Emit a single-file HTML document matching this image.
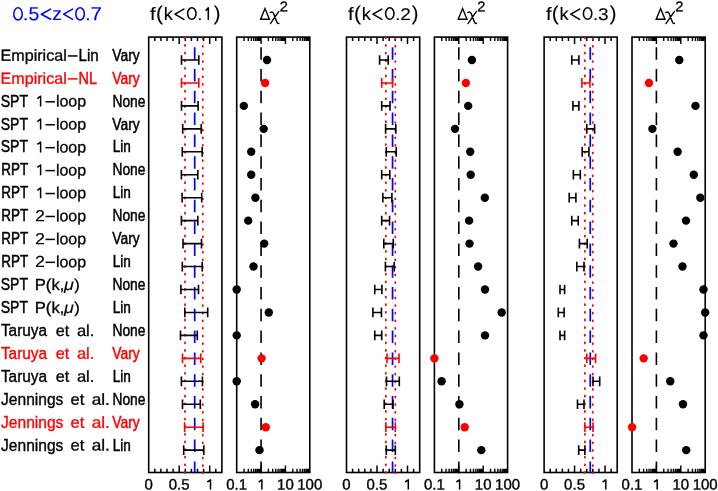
<!DOCTYPE html>
<html><head><meta charset="utf-8"><title>chart</title>
<style>html,body{margin:0;padding:0;background:#fff}svg{display:block;will-change:transform}text{font-family:"Liberation Sans",sans-serif}</style></head><body>
<svg width="718" height="491" viewBox="0 0 718 491">
<rect width="718" height="491" fill="#fff"/>
<g><rect x="148.7" y="37.1" width="73.20" height="435.40" fill="none" stroke="#000" stroke-width="1.6"/>
<path d="M154.80 37.1v3.8M154.80 472.5v-3.8M160.90 37.1v3.8M160.90 472.5v-3.8M167.00 37.1v3.8M167.00 472.5v-3.8M173.10 37.1v3.8M173.10 472.5v-3.8M179.20 37.1v6.9M179.20 472.5v-6.9M185.30 37.1v3.8M185.30 472.5v-3.8M191.40 37.1v3.8M191.40 472.5v-3.8M197.50 37.1v3.8M197.50 472.5v-3.8M203.60 37.1v3.8M203.60 472.5v-3.8M209.70 37.1v6.9M209.70 472.5v-6.9M215.80 37.1v3.8M215.80 472.5v-3.8" stroke="#000" stroke-width="1.5" fill="none"/>
<line x1="185.0" y1="37.35" x2="185.0" y2="473.0" stroke="#ff0000" stroke-width="1.8" stroke-dasharray="0.9 6.725" stroke-linecap="round"/>
<line x1="202.8" y1="38.15" x2="202.8" y2="473.0" stroke="#ff0000" stroke-width="1.8" stroke-dasharray="0.9 6.725" stroke-linecap="round"/>
<line x1="194.7" y1="36.45" x2="194.7" y2="473.2" stroke="#0000ff" stroke-width="1.7" stroke-dasharray="12.5 9.3" stroke-dashoffset="11.05"/>
<path d="M181.5 55.15v9.7M198.8 55.15v9.7M181.5 60.00H198.8" stroke="#000" stroke-width="1.6" fill="none"/>
<path d="M181.5 78.10v9.7M198.8 78.10v9.7M181.5 82.95H198.8" stroke="#ff0000" stroke-width="1.6" fill="none"/>
<path d="M181.5 101.05v9.7M198.1 101.05v9.7M181.5 105.90H198.1" stroke="#000" stroke-width="1.6" fill="none"/>
<path d="M182.7 124.00v9.7M201.2 124.00v9.7M182.7 128.85H201.2" stroke="#000" stroke-width="1.6" fill="none"/>
<path d="M182.3 146.95v9.7M202.2 146.95v9.7M182.3 151.80H202.2" stroke="#000" stroke-width="1.6" fill="none"/>
<path d="M181.4 169.90v9.7M197.8 169.90v9.7M181.4 174.75H197.8" stroke="#000" stroke-width="1.6" fill="none"/>
<path d="M182.1 192.85v9.7M201.7 192.85v9.7M182.1 197.70H201.7" stroke="#000" stroke-width="1.6" fill="none"/>
<path d="M181.4 215.80v9.7M197.8 215.80v9.7M181.4 220.65H197.8" stroke="#000" stroke-width="1.6" fill="none"/>
<path d="M183.0 238.75v9.7M201.5 238.75v9.7M183.0 243.60H201.5" stroke="#000" stroke-width="1.6" fill="none"/>
<path d="M182.3 261.70v9.7M202.2 261.70v9.7M182.3 266.55H202.2" stroke="#000" stroke-width="1.6" fill="none"/>
<path d="M180.9 284.65v9.7M198.5 284.65v9.7M180.9 289.50H198.5" stroke="#000" stroke-width="1.6" fill="none"/>
<path d="M184.8 307.60v9.7M207.7 307.60v9.7M184.8 312.45H207.7" stroke="#000" stroke-width="1.6" fill="none"/>
<path d="M180.5 330.55v9.7M197.3 330.55v9.7M180.5 335.40H197.3" stroke="#000" stroke-width="1.6" fill="none"/>
<path d="M182.5 353.50v9.7M200.8 353.50v9.7M182.5 358.35H200.8" stroke="#ff0000" stroke-width="1.6" fill="none"/>
<path d="M181.4 376.45v9.7M202.4 376.45v9.7M181.4 381.30H202.4" stroke="#000" stroke-width="1.6" fill="none"/>
<path d="M182.5 399.40v9.7M200.3 399.40v9.7M182.5 404.25H200.3" stroke="#000" stroke-width="1.6" fill="none"/>
<path d="M184.6 422.35v9.7M203.1 422.35v9.7M184.6 427.20H203.1" stroke="#ff0000" stroke-width="1.6" fill="none"/>
<path d="M183.7 445.30v9.7M203.8 445.30v9.7M183.7 450.15H203.8" stroke="#000" stroke-width="1.6" fill="none"/>
<text transform="matrix(1,0.0005,0,1,0,-0.0743)" x="148.70" y="489.5" font-size="15" stroke="#000" stroke-width="0.35" text-anchor="middle">0</text>
<text transform="matrix(1,0.0005,0,1,0,-0.0896)" x="179.20" y="489.5" font-size="15" stroke="#000" stroke-width="0.35" text-anchor="middle">0.5</text>
<path d="M207.30 482.0L210.50 479.9V489.5" fill="none" stroke="#000" stroke-width="1.5" stroke-linejoin="round"/></g>
<g><rect x="236.7" y="37.1" width="73.10" height="435.40" fill="none" stroke="#000" stroke-width="1.6"/>
<path d="M244.04 37.1v3.8M244.04 472.5v-3.8M248.33 37.1v3.8M248.33 472.5v-3.8M251.37 37.1v3.8M251.37 472.5v-3.8M253.73 37.1v3.8M253.73 472.5v-3.8M255.66 37.1v3.8M255.66 472.5v-3.8M257.29 37.1v3.8M257.29 472.5v-3.8M258.71 37.1v3.8M258.71 472.5v-3.8M259.95 37.1v3.8M259.95 472.5v-3.8M261.07 37.1v6.9M261.07 472.5v-6.9M268.40 37.1v3.8M268.40 472.5v-3.8M272.69 37.1v3.8M272.69 472.5v-3.8M275.74 37.1v3.8M275.74 472.5v-3.8M278.10 37.1v3.8M278.10 472.5v-3.8M280.03 37.1v3.8M280.03 472.5v-3.8M281.66 37.1v3.8M281.66 472.5v-3.8M283.07 37.1v3.8M283.07 472.5v-3.8M284.32 37.1v3.8M284.32 472.5v-3.8M285.43 37.1v6.9M285.43 472.5v-6.9M292.77 37.1v3.8M292.77 472.5v-3.8M297.06 37.1v3.8M297.06 472.5v-3.8M300.10 37.1v3.8M300.10 472.5v-3.8M302.46 37.1v3.8M302.46 472.5v-3.8M304.39 37.1v3.8M304.39 472.5v-3.8M306.03 37.1v3.8M306.03 472.5v-3.8M307.44 37.1v3.8M307.44 472.5v-3.8M308.69 37.1v3.8M308.69 472.5v-3.8" stroke="#000" stroke-width="1.4" fill="none"/>
<line x1="261.07" y1="36.45" x2="261.07" y2="473.2" stroke="#000" stroke-width="1.6" stroke-dasharray="12.5 9.3" stroke-dashoffset="11.05"/>
<circle cx="267.0" cy="60.00" r="4.2" fill="#000"/>
<circle cx="265.1" cy="82.95" r="4.2" fill="#ff0000"/>
<circle cx="243.8" cy="105.90" r="4.2" fill="#000"/>
<circle cx="263.7" cy="128.85" r="4.2" fill="#000"/>
<circle cx="251.2" cy="151.80" r="4.2" fill="#000"/>
<circle cx="251.2" cy="174.75" r="4.2" fill="#000"/>
<circle cx="255.4" cy="197.70" r="4.2" fill="#000"/>
<circle cx="248.2" cy="220.65" r="4.2" fill="#000"/>
<circle cx="264.2" cy="243.60" r="4.2" fill="#000"/>
<circle cx="253.5" cy="266.55" r="4.2" fill="#000"/>
<circle cx="236.7" cy="289.50" r="4.2" fill="#000"/>
<circle cx="268.8" cy="312.45" r="4.2" fill="#000"/>
<circle cx="236.7" cy="335.40" r="4.2" fill="#000"/>
<circle cx="261.6" cy="358.35" r="4.2" fill="#ff0000"/>
<circle cx="236.7" cy="381.30" r="4.2" fill="#000"/>
<circle cx="255.1" cy="404.25" r="4.2" fill="#000"/>
<circle cx="265.8" cy="427.20" r="4.2" fill="#ff0000"/>
<circle cx="259.5" cy="450.15" r="4.2" fill="#000"/>
<text transform="matrix(1,0.0005,0,1,0,-0.1183)" x="236.70" y="489.5" font-size="15" stroke="#000" stroke-width="0.35" text-anchor="middle">0.1</text>
<path d="M258.67 482.0L261.87 479.9V489.5" fill="none" stroke="#000" stroke-width="1.5" stroke-linejoin="round"/>
<text transform="matrix(1,0.0005,0,1,0,-0.1427)" x="285.43" y="489.5" font-size="15" stroke="#000" stroke-width="0.35" text-anchor="middle">10</text>
<text transform="matrix(1,0.0005,0,1,0,-0.1549)" x="309.80" y="489.5" font-size="15" stroke="#000" stroke-width="0.35" text-anchor="middle">100</text></g>
<g><rect x="346.5" y="37.1" width="73.20" height="435.40" fill="none" stroke="#000" stroke-width="1.6"/>
<path d="M352.60 37.1v3.8M352.60 472.5v-3.8M358.70 37.1v3.8M358.70 472.5v-3.8M364.80 37.1v3.8M364.80 472.5v-3.8M370.90 37.1v3.8M370.90 472.5v-3.8M377.00 37.1v6.9M377.00 472.5v-6.9M383.10 37.1v3.8M383.10 472.5v-3.8M389.20 37.1v3.8M389.20 472.5v-3.8M395.30 37.1v3.8M395.30 472.5v-3.8M401.40 37.1v3.8M401.40 472.5v-3.8M407.50 37.1v6.9M407.50 472.5v-6.9M413.60 37.1v3.8M413.60 472.5v-3.8" stroke="#000" stroke-width="1.5" fill="none"/>
<line x1="385.85" y1="37.35" x2="385.85" y2="473.0" stroke="#ff0000" stroke-width="1.8" stroke-dasharray="0.9 6.725" stroke-linecap="round"/>
<line x1="395.3" y1="38.15" x2="395.3" y2="473.0" stroke="#ff0000" stroke-width="1.8" stroke-dasharray="0.9 6.725" stroke-linecap="round"/>
<line x1="392.55" y1="36.45" x2="392.55" y2="473.2" stroke="#0000ff" stroke-width="1.7" stroke-dasharray="12.5 9.3" stroke-dashoffset="11.05"/>
<path d="M379.6 55.15v9.7M388.2 55.15v9.7M379.6 60.00H388.2" stroke="#000" stroke-width="1.6" fill="none"/>
<path d="M381.7 78.10v9.7M392.55 78.10v9.7M381.7 82.95H392.55" stroke="#ff0000" stroke-width="1.6" fill="none"/>
<path d="M381.7 101.05v9.7M390.0 101.05v9.7M381.7 105.90H390.0" stroke="#000" stroke-width="1.6" fill="none"/>
<path d="M385.6 124.00v9.7M395.8 124.00v9.7M385.6 128.85H395.8" stroke="#000" stroke-width="1.6" fill="none"/>
<path d="M386.3 146.95v9.7M396.25 146.95v9.7M386.3 151.80H396.25" stroke="#000" stroke-width="1.6" fill="none"/>
<path d="M381.7 169.90v9.7M389.8 169.90v9.7M381.7 174.75H389.8" stroke="#000" stroke-width="1.6" fill="none"/>
<path d="M382.8 192.85v9.7M391.9 192.85v9.7M382.8 197.70H391.9" stroke="#000" stroke-width="1.6" fill="none"/>
<path d="M381.7 215.80v9.7M389.55 215.80v9.7M381.7 220.65H389.55" stroke="#000" stroke-width="1.6" fill="none"/>
<path d="M383.8 238.75v9.7M393.25 238.75v9.7M383.8 243.60H393.25" stroke="#000" stroke-width="1.6" fill="none"/>
<path d="M385.4 261.70v9.7M394.2 261.70v9.7M385.4 266.55H394.2" stroke="#000" stroke-width="1.6" fill="none"/>
<path d="M374.75 284.65v9.7M381.9 284.65v9.7M374.75 289.50H381.9" stroke="#000" stroke-width="1.6" fill="none"/>
<path d="M372.9 307.60v9.7M381.45 307.60v9.7M372.9 312.45H381.45" stroke="#000" stroke-width="1.6" fill="none"/>
<path d="M374.75 330.55v9.7M381.7 330.55v9.7M374.75 335.40H381.7" stroke="#000" stroke-width="1.6" fill="none"/>
<path d="M387.0 353.50v9.7M399.0 353.50v9.7M387.0 358.35H399.0" stroke="#ff0000" stroke-width="1.6" fill="none"/>
<path d="M386.5 376.45v9.7M399.3 376.45v9.7M386.5 381.30H399.3" stroke="#000" stroke-width="1.6" fill="none"/>
<path d="M384.2 399.40v9.7M393.0 399.40v9.7M384.2 404.25H393.0" stroke="#000" stroke-width="1.6" fill="none"/>
<path d="M385.85 422.35v9.7M395.3 422.35v9.7M385.85 427.20H395.3" stroke="#ff0000" stroke-width="1.6" fill="none"/>
<path d="M386.3 445.30v9.7M395.3 445.30v9.7M386.3 450.15H395.3" stroke="#000" stroke-width="1.6" fill="none"/>
<text transform="matrix(1,0.0005,0,1,0,-0.1733)" x="346.50" y="489.5" font-size="15" stroke="#000" stroke-width="0.35" text-anchor="middle">0</text>
<text transform="matrix(1,0.0005,0,1,0,-0.1885)" x="377.00" y="489.5" font-size="15" stroke="#000" stroke-width="0.35" text-anchor="middle">0.5</text>
<path d="M405.10 482.0L408.30 479.9V489.5" fill="none" stroke="#000" stroke-width="1.5" stroke-linejoin="round"/></g>
<g><rect x="434.4" y="37.1" width="73.20" height="435.40" fill="none" stroke="#000" stroke-width="1.6"/>
<path d="M441.75 37.1v3.8M441.75 472.5v-3.8M446.04 37.1v3.8M446.04 472.5v-3.8M449.09 37.1v3.8M449.09 472.5v-3.8M451.45 37.1v3.8M451.45 472.5v-3.8M453.39 37.1v3.8M453.39 472.5v-3.8M455.02 37.1v3.8M455.02 472.5v-3.8M456.44 37.1v3.8M456.44 472.5v-3.8M457.68 37.1v3.8M457.68 472.5v-3.8M458.80 37.1v6.9M458.80 472.5v-6.9M466.15 37.1v3.8M466.15 472.5v-3.8M470.44 37.1v3.8M470.44 472.5v-3.8M473.49 37.1v3.8M473.49 472.5v-3.8M475.85 37.1v3.8M475.85 472.5v-3.8M477.79 37.1v3.8M477.79 472.5v-3.8M479.42 37.1v3.8M479.42 472.5v-3.8M480.84 37.1v3.8M480.84 472.5v-3.8M482.08 37.1v3.8M482.08 472.5v-3.8M483.20 37.1v6.9M483.20 472.5v-6.9M490.55 37.1v3.8M490.55 472.5v-3.8M494.84 37.1v3.8M494.84 472.5v-3.8M497.89 37.1v3.8M497.89 472.5v-3.8M500.25 37.1v3.8M500.25 472.5v-3.8M502.19 37.1v3.8M502.19 472.5v-3.8M503.82 37.1v3.8M503.82 472.5v-3.8M505.24 37.1v3.8M505.24 472.5v-3.8M506.48 37.1v3.8M506.48 472.5v-3.8" stroke="#000" stroke-width="1.4" fill="none"/>
<line x1="458.80" y1="36.45" x2="458.80" y2="473.2" stroke="#000" stroke-width="1.6" stroke-dasharray="12.5 9.3" stroke-dashoffset="11.05"/>
<circle cx="471.9" cy="60.00" r="4.2" fill="#000"/>
<circle cx="465.85" cy="82.95" r="4.2" fill="#ff0000"/>
<circle cx="468.2" cy="105.90" r="4.2" fill="#000"/>
<circle cx="455.0" cy="128.85" r="4.2" fill="#000"/>
<circle cx="470.2" cy="151.80" r="4.2" fill="#000"/>
<circle cx="470.7" cy="174.75" r="4.2" fill="#000"/>
<circle cx="484.8" cy="197.70" r="4.2" fill="#000"/>
<circle cx="469.1" cy="220.65" r="4.2" fill="#000"/>
<circle cx="469.5" cy="243.60" r="4.2" fill="#000"/>
<circle cx="478.1" cy="266.55" r="4.2" fill="#000"/>
<circle cx="485.0" cy="289.50" r="4.2" fill="#000"/>
<circle cx="501.7" cy="312.45" r="4.2" fill="#000"/>
<circle cx="485.0" cy="335.40" r="4.2" fill="#000"/>
<circle cx="434.4" cy="358.35" r="4.2" fill="#ff0000"/>
<circle cx="441.6" cy="381.30" r="4.2" fill="#000"/>
<circle cx="459.4" cy="404.25" r="4.2" fill="#000"/>
<circle cx="464.7" cy="427.20" r="4.2" fill="#ff0000"/>
<circle cx="481.3" cy="450.15" r="4.2" fill="#000"/>
<text transform="matrix(1,0.0005,0,1,0,-0.2172)" x="434.40" y="489.5" font-size="15" stroke="#000" stroke-width="0.35" text-anchor="middle">0.1</text>
<path d="M456.40 482.0L459.60 479.9V489.5" fill="none" stroke="#000" stroke-width="1.5" stroke-linejoin="round"/>
<text transform="matrix(1,0.0005,0,1,0,-0.2416)" x="483.20" y="489.5" font-size="15" stroke="#000" stroke-width="0.35" text-anchor="middle">10</text>
<text transform="matrix(1,0.0005,0,1,0,-0.2538)" x="507.60" y="489.5" font-size="15" stroke="#000" stroke-width="0.35" text-anchor="middle">100</text></g>
<g><rect x="544.1" y="37.1" width="73.10" height="435.40" fill="none" stroke="#000" stroke-width="1.6"/>
<path d="M550.19 37.1v3.8M550.19 472.5v-3.8M556.28 37.1v3.8M556.28 472.5v-3.8M562.38 37.1v3.8M562.38 472.5v-3.8M568.47 37.1v3.8M568.47 472.5v-3.8M574.56 37.1v6.9M574.56 472.5v-6.9M580.65 37.1v3.8M580.65 472.5v-3.8M586.74 37.1v3.8M586.74 472.5v-3.8M592.83 37.1v3.8M592.83 472.5v-3.8M598.93 37.1v3.8M598.93 472.5v-3.8M605.02 37.1v6.9M605.02 472.5v-6.9M611.11 37.1v3.8M611.11 472.5v-3.8" stroke="#000" stroke-width="1.5" fill="none"/>
<line x1="584.9" y1="37.35" x2="584.9" y2="473.0" stroke="#ff0000" stroke-width="1.8" stroke-dasharray="0.9 6.725" stroke-linecap="round"/>
<line x1="592.8" y1="38.15" x2="592.8" y2="473.0" stroke="#ff0000" stroke-width="1.8" stroke-dasharray="0.9 6.725" stroke-linecap="round"/>
<line x1="590.25" y1="36.45" x2="590.25" y2="473.2" stroke="#0000ff" stroke-width="1.7" stroke-dasharray="12.5 9.3" stroke-dashoffset="11.05"/>
<path d="M571.75 55.15v9.7M578.9 55.15v9.7M571.75 60.00H578.9" stroke="#000" stroke-width="1.6" fill="none"/>
<path d="M581.9 78.10v9.7M590.0 78.10v9.7M581.9 82.95H590.0" stroke="#ff0000" stroke-width="1.6" fill="none"/>
<path d="M572.9 101.05v9.7M578.9 101.05v9.7M572.9 105.90H578.9" stroke="#000" stroke-width="1.6" fill="none"/>
<path d="M586.8 124.00v9.7M594.6 124.00v9.7M586.8 128.85H594.6" stroke="#000" stroke-width="1.6" fill="none"/>
<path d="M582.2 146.95v9.7M588.9 146.95v9.7M582.2 151.80H588.9" stroke="#000" stroke-width="1.6" fill="none"/>
<path d="M573.4 169.90v9.7M580.3 169.90v9.7M573.4 174.75H580.3" stroke="#000" stroke-width="1.6" fill="none"/>
<path d="M569.2 192.85v9.7M575.9 192.85v9.7M569.2 197.70H575.9" stroke="#000" stroke-width="1.6" fill="none"/>
<path d="M571.75 215.80v9.7M578.2 215.80v9.7M571.75 220.65H578.2" stroke="#000" stroke-width="1.6" fill="none"/>
<path d="M579.4 238.75v9.7M587.2 238.75v9.7M579.4 243.60H587.2" stroke="#000" stroke-width="1.6" fill="none"/>
<path d="M576.8 261.70v9.7M584.0 261.70v9.7M576.8 266.55H584.0" stroke="#000" stroke-width="1.6" fill="none"/>
<path d="M560.0 284.65v9.7M564.6 284.65v9.7M560.0 289.50H564.6" stroke="#000" stroke-width="1.6" fill="none"/>
<path d="M558.3 307.60v9.7M564.1 307.60v9.7M558.3 312.45H564.1" stroke="#000" stroke-width="1.6" fill="none"/>
<path d="M560.0 330.55v9.7M564.6 330.55v9.7M560.0 335.40H564.6" stroke="#000" stroke-width="1.6" fill="none"/>
<path d="M586.8 353.50v9.7M595.6 353.50v9.7M586.8 358.35H595.6" stroke="#ff0000" stroke-width="1.6" fill="none"/>
<path d="M593.0 376.45v9.7M599.7 376.45v9.7M593.0 381.30H599.7" stroke="#000" stroke-width="1.6" fill="none"/>
<path d="M577.5 399.40v9.7M584.0 399.40v9.7M577.5 404.25H584.0" stroke="#000" stroke-width="1.6" fill="none"/>
<path d="M584.9 422.35v9.7M593.0 422.35v9.7M584.9 427.20H593.0" stroke="#ff0000" stroke-width="1.6" fill="none"/>
<path d="M578.7 445.30v9.7M584.9 445.30v9.7M578.7 450.15H584.9" stroke="#000" stroke-width="1.6" fill="none"/>
<text transform="matrix(1,0.0005,0,1,0,-0.2721)" x="544.10" y="489.5" font-size="15" stroke="#000" stroke-width="0.35" text-anchor="middle">0</text>
<text transform="matrix(1,0.0005,0,1,0,-0.2873)" x="574.56" y="489.5" font-size="15" stroke="#000" stroke-width="0.35" text-anchor="middle">0.5</text>
<path d="M602.62 482.0L605.82 479.9V489.5" fill="none" stroke="#000" stroke-width="1.5" stroke-linejoin="round"/></g>
<g><rect x="632.0" y="37.1" width="73.20" height="435.40" fill="none" stroke="#000" stroke-width="1.6"/>
<path d="M639.35 37.1v3.8M639.35 472.5v-3.8M643.64 37.1v3.8M643.64 472.5v-3.8M646.69 37.1v3.8M646.69 472.5v-3.8M649.05 37.1v3.8M649.05 472.5v-3.8M650.99 37.1v3.8M650.99 472.5v-3.8M652.62 37.1v3.8M652.62 472.5v-3.8M654.04 37.1v3.8M654.04 472.5v-3.8M655.28 37.1v3.8M655.28 472.5v-3.8M656.40 37.1v6.9M656.40 472.5v-6.9M663.75 37.1v3.8M663.75 472.5v-3.8M668.04 37.1v3.8M668.04 472.5v-3.8M671.09 37.1v3.8M671.09 472.5v-3.8M673.45 37.1v3.8M673.45 472.5v-3.8M675.39 37.1v3.8M675.39 472.5v-3.8M677.02 37.1v3.8M677.02 472.5v-3.8M678.44 37.1v3.8M678.44 472.5v-3.8M679.68 37.1v3.8M679.68 472.5v-3.8M680.80 37.1v6.9M680.80 472.5v-6.9M688.15 37.1v3.8M688.15 472.5v-3.8M692.44 37.1v3.8M692.44 472.5v-3.8M695.49 37.1v3.8M695.49 472.5v-3.8M697.85 37.1v3.8M697.85 472.5v-3.8M699.79 37.1v3.8M699.79 472.5v-3.8M701.42 37.1v3.8M701.42 472.5v-3.8M702.84 37.1v3.8M702.84 472.5v-3.8M704.08 37.1v3.8M704.08 472.5v-3.8" stroke="#000" stroke-width="1.4" fill="none"/>
<line x1="656.40" y1="36.45" x2="656.40" y2="473.2" stroke="#000" stroke-width="1.6" stroke-dasharray="12.5 9.3" stroke-dashoffset="11.05"/>
<circle cx="679.3" cy="60.00" r="4.2" fill="#000"/>
<circle cx="649.0" cy="82.95" r="4.2" fill="#ff0000"/>
<circle cx="695.5" cy="105.90" r="4.2" fill="#000"/>
<circle cx="652.4" cy="128.85" r="4.2" fill="#000"/>
<circle cx="677.65" cy="151.80" r="4.2" fill="#000"/>
<circle cx="693.8" cy="174.75" r="4.2" fill="#000"/>
<circle cx="700.3" cy="197.70" r="4.2" fill="#000"/>
<circle cx="686.0" cy="220.65" r="4.2" fill="#000"/>
<circle cx="673.5" cy="243.60" r="4.2" fill="#000"/>
<circle cx="682.5" cy="266.55" r="4.2" fill="#000"/>
<circle cx="703.5" cy="289.50" r="4.2" fill="#000"/>
<circle cx="705.2" cy="312.45" r="4.2" fill="#000"/>
<circle cx="703.5" cy="335.40" r="4.2" fill="#000"/>
<circle cx="643.7" cy="358.35" r="4.2" fill="#ff0000"/>
<circle cx="670.25" cy="381.30" r="4.2" fill="#000"/>
<circle cx="683.0" cy="404.25" r="4.2" fill="#000"/>
<circle cx="632.1" cy="427.20" r="4.2" fill="#ff0000"/>
<circle cx="686.2" cy="450.15" r="4.2" fill="#000"/>
<text transform="matrix(1,0.0005,0,1,0,-0.3160)" x="632.00" y="489.5" font-size="15" stroke="#000" stroke-width="0.35" text-anchor="middle">0.1</text>
<path d="M654.00 482.0L657.20 479.9V489.5" fill="none" stroke="#000" stroke-width="1.5" stroke-linejoin="round"/>
<text transform="matrix(1,0.0005,0,1,0,-0.3404)" x="680.80" y="489.5" font-size="15" stroke="#000" stroke-width="0.35" text-anchor="middle">10</text>
<text transform="matrix(1,0.0005,0,1,0,-0.3526)" x="705.20" y="489.5" font-size="15" stroke="#000" stroke-width="0.35" text-anchor="middle">100</text></g>
<ellipse cx="18.00" cy="13.88" rx="4.22" ry="6.10" fill="none" stroke="#0000ff" stroke-width="1.55"/>
<text transform="matrix(1,0.0005,0,1,0,-0.0113)" x="22.66" y="20.3" font-size="18.5" fill="#0000ff" stroke="#0000ff" stroke-width="0.12" textLength="5.76" lengthAdjust="spacingAndGlyphs">.</text>
<text transform="matrix(1,0.0005,0,1,0,-0.0143)" x="28.51" y="20.3" font-size="19" fill="#0000ff" stroke="#0000ff" stroke-width="0.12" textLength="10.83" lengthAdjust="spacingAndGlyphs">5</text>
<path d="M50.65 9.1L41.35 14.2L50.65 19.3" fill="none" stroke="#0000ff" stroke-width="1.55" stroke-linejoin="round" stroke-linecap="round"/>
<text transform="matrix(1,0.0005,0,1,0,-0.0262)" x="52.37" y="20.0" font-size="18.5" fill="#0000ff" stroke="#0000ff" stroke-width="0.12" textLength="9.68" lengthAdjust="spacingAndGlyphs">z</text>
<path d="M72.65 9.1L63.65 14.2L72.65 19.3" fill="none" stroke="#0000ff" stroke-width="1.55" stroke-linejoin="round" stroke-linecap="round"/>
<ellipse cx="80.07" cy="13.88" rx="4.25" ry="6.10" fill="none" stroke="#0000ff" stroke-width="1.55"/>
<text transform="matrix(1,0.0005,0,1,0,-0.0425)" x="85.06" y="20.3" font-size="18.5" fill="#0000ff" stroke="#0000ff" stroke-width="0.12" textLength="5.76" lengthAdjust="spacingAndGlyphs">.</text>
<text transform="matrix(1,0.0005,0,1,0,-0.0452)" x="90.48" y="20.3" font-size="19" fill="#0000ff" stroke="#0000ff" stroke-width="0.12" textLength="11.51" lengthAdjust="spacingAndGlyphs">7</text>
<g transform="translate(0,0)"><text transform="matrix(1,0.0005,0,1,0,-0.0751)" x="150.11" y="20.05" font-size="18" fill="#000" stroke="#000" stroke-width="0.12" textLength="5.62" lengthAdjust="spacingAndGlyphs">f</text><text transform="matrix(1,0.0005,0,1,0,-0.0780)" x="155.99" y="20.05" font-size="20" fill="#000" stroke="#000" stroke-width="0.12" textLength="6.99" lengthAdjust="spacingAndGlyphs">(</text><text transform="matrix(1,0.0005,0,1,0,-0.0819)" x="163.73" y="20.05" font-size="18" fill="#000" stroke="#000" stroke-width="0.12" textLength="9.17" lengthAdjust="spacingAndGlyphs">k</text><path d="M183.85 9.1L174.95 14.2L183.85 19.3" fill="none" stroke="#000" stroke-width="1.55" stroke-linejoin="round" stroke-linecap="round"/><ellipse cx="191.80" cy="13.53" rx="4.22" ry="5.77" fill="none" stroke="#000" stroke-width="1.55"/><text transform="matrix(1,0.0005,0,1,0,-0.0986)" x="197.27" y="20.05" font-size="17" fill="#000" stroke="#000" stroke-width="0.12" textLength="5.14" lengthAdjust="spacingAndGlyphs">.</text><path d="M205.7 10.7L208.3 7.9V20.0" fill="none" stroke="#000" stroke-width="1.55" stroke-linejoin="round"/><text transform="matrix(1,0.0005,0,1,0,-0.1069)" x="213.85" y="20.05" font-size="20" fill="#000" stroke="#000" stroke-width="0.12" textLength="6.73" lengthAdjust="spacingAndGlyphs">)</text></g>
<g transform="translate(0,0)"><path d="M260.6 19.2L265.0 8.6L269.4 19.2Z" fill="none" stroke="#000" stroke-width="1.4" stroke-linejoin="miter"/><path d="M270.3 12.5C272.0 11.4 273.0 12.0 273.6 13.6L276.6 21.6C277.2 23.2 277.9 23.7 278.9 23.3M278.7 11.6L270.4 23.6" fill="none" stroke="#000" stroke-width="1.4" stroke-linecap="round"/><text transform="matrix(1,0.0005,0,1,0,-0.1399)" x="279.7" y="11.3" font-size="14" stroke="#000" stroke-width="0.3" textLength="8.2" lengthAdjust="spacingAndGlyphs">2</text></g>
<g transform="translate(198.0,0)"><text transform="matrix(1,0.0005,0,1,0,-0.0751)" x="150.11" y="20.05" font-size="18" fill="#000" stroke="#000" stroke-width="0.12" textLength="5.62" lengthAdjust="spacingAndGlyphs">f</text><text transform="matrix(1,0.0005,0,1,0,-0.0780)" x="155.99" y="20.05" font-size="20" fill="#000" stroke="#000" stroke-width="0.12" textLength="6.99" lengthAdjust="spacingAndGlyphs">(</text><text transform="matrix(1,0.0005,0,1,0,-0.0819)" x="163.73" y="20.05" font-size="18" fill="#000" stroke="#000" stroke-width="0.12" textLength="9.17" lengthAdjust="spacingAndGlyphs">k</text><path d="M183.85 9.1L174.95 14.2L183.85 19.3" fill="none" stroke="#000" stroke-width="1.55" stroke-linejoin="round" stroke-linecap="round"/><ellipse cx="191.80" cy="13.53" rx="4.22" ry="5.77" fill="none" stroke="#000" stroke-width="1.55"/><text transform="matrix(1,0.0005,0,1,0,-0.0986)" x="197.27" y="20.05" font-size="17" fill="#000" stroke="#000" stroke-width="0.12" textLength="5.14" lengthAdjust="spacingAndGlyphs">.</text><text transform="matrix(1,0.0005,0,1,0,-0.1011)" x="202.23" y="20.05" font-size="17" fill="#000" stroke="#000" stroke-width="0.12" textLength="10.61" lengthAdjust="spacingAndGlyphs">2</text><text transform="matrix(1,0.0005,0,1,0,-0.1069)" x="213.85" y="20.05" font-size="20" fill="#000" stroke="#000" stroke-width="0.12" textLength="6.73" lengthAdjust="spacingAndGlyphs">)</text></g>
<g transform="translate(197.6,0)"><path d="M260.6 19.2L265.0 8.6L269.4 19.2Z" fill="none" stroke="#000" stroke-width="1.4" stroke-linejoin="miter"/><path d="M270.3 12.5C272.0 11.4 273.0 12.0 273.6 13.6L276.6 21.6C277.2 23.2 277.9 23.7 278.9 23.3M278.7 11.6L270.4 23.6" fill="none" stroke="#000" stroke-width="1.4" stroke-linecap="round"/><text transform="matrix(1,0.0005,0,1,0,-0.1399)" x="279.7" y="11.3" font-size="14" stroke="#000" stroke-width="0.3" textLength="8.2" lengthAdjust="spacingAndGlyphs">2</text></g>
<g transform="translate(395.8,0)"><text transform="matrix(1,0.0005,0,1,0,-0.0751)" x="150.11" y="20.05" font-size="18" fill="#000" stroke="#000" stroke-width="0.12" textLength="5.62" lengthAdjust="spacingAndGlyphs">f</text><text transform="matrix(1,0.0005,0,1,0,-0.0780)" x="155.99" y="20.05" font-size="20" fill="#000" stroke="#000" stroke-width="0.12" textLength="6.99" lengthAdjust="spacingAndGlyphs">(</text><text transform="matrix(1,0.0005,0,1,0,-0.0819)" x="163.73" y="20.05" font-size="18" fill="#000" stroke="#000" stroke-width="0.12" textLength="9.17" lengthAdjust="spacingAndGlyphs">k</text><path d="M183.85 9.1L174.95 14.2L183.85 19.3" fill="none" stroke="#000" stroke-width="1.55" stroke-linejoin="round" stroke-linecap="round"/><ellipse cx="191.80" cy="13.53" rx="4.22" ry="5.77" fill="none" stroke="#000" stroke-width="1.55"/><text transform="matrix(1,0.0005,0,1,0,-0.0986)" x="197.27" y="20.05" font-size="17" fill="#000" stroke="#000" stroke-width="0.12" textLength="5.14" lengthAdjust="spacingAndGlyphs">.</text><text transform="matrix(1,0.0005,0,1,0,-0.1011)" x="202.28" y="20.05" font-size="17" fill="#000" stroke="#000" stroke-width="0.12" textLength="10.61" lengthAdjust="spacingAndGlyphs">3</text><text transform="matrix(1,0.0005,0,1,0,-0.1069)" x="213.85" y="20.05" font-size="20" fill="#000" stroke="#000" stroke-width="0.12" textLength="6.73" lengthAdjust="spacingAndGlyphs">)</text></g>
<g transform="translate(395.6,0)"><path d="M260.6 19.2L265.0 8.6L269.4 19.2Z" fill="none" stroke="#000" stroke-width="1.4" stroke-linejoin="miter"/><path d="M270.3 12.5C272.0 11.4 273.0 12.0 273.6 13.6L276.6 21.6C277.2 23.2 277.9 23.7 278.9 23.3M278.7 11.6L270.4 23.6" fill="none" stroke="#000" stroke-width="1.4" stroke-linecap="round"/><text transform="matrix(1,0.0005,0,1,0,-0.1399)" x="279.7" y="11.3" font-size="14" stroke="#000" stroke-width="0.3" textLength="8.2" lengthAdjust="spacingAndGlyphs">2</text></g>
<text transform="matrix(1,0.0005,0,1,0,-0.0003)" x="0.57" y="60.75" font-size="16.0" fill="#000" stroke="#000" stroke-width="0.30" textLength="66.16" lengthAdjust="spacingAndGlyphs">Empirical</text>
<line x1="67.8" y1="55.95" x2="77.6" y2="55.95" stroke="#000" stroke-width="1.5"/>
<text transform="matrix(1,0.0005,0,1,0,-0.0393)" x="78.56" y="60.75" font-size="16.0" fill="#000" stroke="#000" stroke-width="0.38" textLength="20.10" lengthAdjust="spacingAndGlyphs">Lin</text>
<text transform="matrix(1,0.0005,0,1,0,-0.0562)" x="112.33" y="60.75" font-size="16.0" fill="#000" stroke="#000" stroke-width="0.49" textLength="27.46" lengthAdjust="spacingAndGlyphs">Vary</text>
<text transform="matrix(1,0.0005,0,1,0,-0.0003)" x="0.57" y="83.68" font-size="16.0" fill="#ff0000" stroke="#ff0000" stroke-width="0.30" textLength="66.16" lengthAdjust="spacingAndGlyphs">Empirical</text>
<line x1="67.8" y1="78.88" x2="77.6" y2="78.88" stroke="#ff0000" stroke-width="1.5"/>
<text transform="matrix(1,0.0005,0,1,0,-0.0393)" x="78.61" y="83.68" font-size="16.0" fill="#ff0000" stroke="#ff0000" stroke-width="0.44" textLength="18.43" lengthAdjust="spacingAndGlyphs">NL</text>
<text transform="matrix(1,0.0005,0,1,0,-0.0562)" x="112.33" y="83.68" font-size="16.0" fill="#ff0000" stroke="#ff0000" stroke-width="0.49" textLength="27.46" lengthAdjust="spacingAndGlyphs">Vary</text>
<text transform="matrix(1,0.0005,0,1,0,-0.0004)" x="0.75" y="106.61" font-size="16.0" fill="#000" stroke="#000" stroke-width="0.47" textLength="27.34" lengthAdjust="spacingAndGlyphs">SPT</text>
<path d="M37.30 98.61L40.60 96.21V106.51" fill="none" stroke="#000" stroke-width="1.5" stroke-linejoin="round"/>
<line x1="45.5" y1="101.81" x2="54.9" y2="101.81" stroke="#000" stroke-width="1.5"/>
<text transform="matrix(1,0.0005,0,1,0,-0.0280)" x="55.91" y="106.61" font-size="16.0" fill="#000" stroke="#000" stroke-width="0.30" textLength="30.28" lengthAdjust="spacingAndGlyphs">loop</text>
<text transform="matrix(1,0.0005,0,1,0,-0.0562)" x="112.46" y="106.61" font-size="16.0" fill="#000" stroke="#000" stroke-width="0.49" textLength="32.94" lengthAdjust="spacingAndGlyphs">None</text>
<text transform="matrix(1,0.0005,0,1,0,-0.0004)" x="0.75" y="129.55" font-size="16.0" fill="#000" stroke="#000" stroke-width="0.47" textLength="27.34" lengthAdjust="spacingAndGlyphs">SPT</text>
<path d="M37.30 121.55L40.60 119.15V129.45" fill="none" stroke="#000" stroke-width="1.5" stroke-linejoin="round"/>
<line x1="45.5" y1="124.75" x2="54.9" y2="124.75" stroke="#000" stroke-width="1.5"/>
<text transform="matrix(1,0.0005,0,1,0,-0.0280)" x="55.91" y="129.55" font-size="16.0" fill="#000" stroke="#000" stroke-width="0.30" textLength="30.28" lengthAdjust="spacingAndGlyphs">loop</text>
<text transform="matrix(1,0.0005,0,1,0,-0.0562)" x="112.33" y="129.55" font-size="16.0" fill="#000" stroke="#000" stroke-width="0.49" textLength="27.46" lengthAdjust="spacingAndGlyphs">Vary</text>
<text transform="matrix(1,0.0005,0,1,0,-0.0004)" x="0.75" y="152.48" font-size="16.0" fill="#000" stroke="#000" stroke-width="0.47" textLength="27.34" lengthAdjust="spacingAndGlyphs">SPT</text>
<path d="M37.30 144.48L40.60 142.08V152.38" fill="none" stroke="#000" stroke-width="1.5" stroke-linejoin="round"/>
<line x1="45.5" y1="147.68" x2="54.9" y2="147.68" stroke="#000" stroke-width="1.5"/>
<text transform="matrix(1,0.0005,0,1,0,-0.0280)" x="55.91" y="152.48" font-size="16.0" fill="#000" stroke="#000" stroke-width="0.30" textLength="30.28" lengthAdjust="spacingAndGlyphs">loop</text>
<text transform="matrix(1,0.0005,0,1,0,-0.0564)" x="112.73" y="152.48" font-size="16.0" fill="#000" stroke="#000" stroke-width="0.51" textLength="18.13" lengthAdjust="spacingAndGlyphs">Lin</text>
<text transform="matrix(1,0.0005,0,1,0,-0.0006)" x="1.13" y="175.41" font-size="16.0" fill="#000" stroke="#000" stroke-width="0.52" textLength="27.01" lengthAdjust="spacingAndGlyphs">RPT</text>
<path d="M37.30 167.41L40.60 165.01V175.31" fill="none" stroke="#000" stroke-width="1.5" stroke-linejoin="round"/>
<line x1="45.5" y1="170.61" x2="54.9" y2="170.61" stroke="#000" stroke-width="1.5"/>
<text transform="matrix(1,0.0005,0,1,0,-0.0280)" x="55.91" y="175.41" font-size="16.0" fill="#000" stroke="#000" stroke-width="0.30" textLength="30.28" lengthAdjust="spacingAndGlyphs">loop</text>
<text transform="matrix(1,0.0005,0,1,0,-0.0562)" x="112.46" y="175.41" font-size="16.0" fill="#000" stroke="#000" stroke-width="0.49" textLength="32.94" lengthAdjust="spacingAndGlyphs">None</text>
<text transform="matrix(1,0.0005,0,1,0,-0.0006)" x="1.13" y="198.34" font-size="16.0" fill="#000" stroke="#000" stroke-width="0.52" textLength="27.01" lengthAdjust="spacingAndGlyphs">RPT</text>
<path d="M37.30 190.34L40.60 187.94V198.24" fill="none" stroke="#000" stroke-width="1.5" stroke-linejoin="round"/>
<line x1="45.5" y1="193.54" x2="54.9" y2="193.54" stroke="#000" stroke-width="1.5"/>
<text transform="matrix(1,0.0005,0,1,0,-0.0280)" x="55.91" y="198.34" font-size="16.0" fill="#000" stroke="#000" stroke-width="0.30" textLength="30.28" lengthAdjust="spacingAndGlyphs">loop</text>
<text transform="matrix(1,0.0005,0,1,0,-0.0564)" x="112.73" y="198.34" font-size="16.0" fill="#000" stroke="#000" stroke-width="0.51" textLength="18.13" lengthAdjust="spacingAndGlyphs">Lin</text>
<text transform="matrix(1,0.0005,0,1,0,-0.0006)" x="1.13" y="221.27" font-size="16.0" fill="#000" stroke="#000" stroke-width="0.52" textLength="27.01" lengthAdjust="spacingAndGlyphs">RPT</text>
<text transform="matrix(1,0.0005,0,1,0,-0.0175)" x="34.93" y="221.27" font-size="16.0" fill="#000" stroke="#000" stroke-width="0.10" textLength="9.97" lengthAdjust="spacingAndGlyphs">2</text>
<line x1="45.5" y1="216.47" x2="54.9" y2="216.47" stroke="#000" stroke-width="1.5"/>
<text transform="matrix(1,0.0005,0,1,0,-0.0280)" x="55.91" y="221.27" font-size="16.0" fill="#000" stroke="#000" stroke-width="0.30" textLength="30.28" lengthAdjust="spacingAndGlyphs">loop</text>
<text transform="matrix(1,0.0005,0,1,0,-0.0562)" x="112.46" y="221.27" font-size="16.0" fill="#000" stroke="#000" stroke-width="0.49" textLength="32.94" lengthAdjust="spacingAndGlyphs">None</text>
<text transform="matrix(1,0.0005,0,1,0,-0.0006)" x="1.13" y="244.21" font-size="16.0" fill="#000" stroke="#000" stroke-width="0.52" textLength="27.01" lengthAdjust="spacingAndGlyphs">RPT</text>
<text transform="matrix(1,0.0005,0,1,0,-0.0175)" x="34.93" y="244.21" font-size="16.0" fill="#000" stroke="#000" stroke-width="0.10" textLength="9.97" lengthAdjust="spacingAndGlyphs">2</text>
<line x1="45.5" y1="239.41" x2="54.9" y2="239.41" stroke="#000" stroke-width="1.5"/>
<text transform="matrix(1,0.0005,0,1,0,-0.0280)" x="55.91" y="244.21" font-size="16.0" fill="#000" stroke="#000" stroke-width="0.30" textLength="30.28" lengthAdjust="spacingAndGlyphs">loop</text>
<text transform="matrix(1,0.0005,0,1,0,-0.0562)" x="112.33" y="244.21" font-size="16.0" fill="#000" stroke="#000" stroke-width="0.49" textLength="27.46" lengthAdjust="spacingAndGlyphs">Vary</text>
<text transform="matrix(1,0.0005,0,1,0,-0.0006)" x="1.13" y="267.14" font-size="16.0" fill="#000" stroke="#000" stroke-width="0.52" textLength="27.01" lengthAdjust="spacingAndGlyphs">RPT</text>
<text transform="matrix(1,0.0005,0,1,0,-0.0175)" x="34.93" y="267.14" font-size="16.0" fill="#000" stroke="#000" stroke-width="0.10" textLength="9.97" lengthAdjust="spacingAndGlyphs">2</text>
<line x1="45.5" y1="262.34" x2="54.9" y2="262.34" stroke="#000" stroke-width="1.5"/>
<text transform="matrix(1,0.0005,0,1,0,-0.0280)" x="55.91" y="267.14" font-size="16.0" fill="#000" stroke="#000" stroke-width="0.30" textLength="30.28" lengthAdjust="spacingAndGlyphs">loop</text>
<text transform="matrix(1,0.0005,0,1,0,-0.0564)" x="112.73" y="267.14" font-size="16.0" fill="#000" stroke="#000" stroke-width="0.51" textLength="18.13" lengthAdjust="spacingAndGlyphs">Lin</text>
<text transform="matrix(1,0.0005,0,1,0,-0.0004)" x="0.75" y="290.07" font-size="16.0" fill="#000" stroke="#000" stroke-width="0.47" textLength="27.34" lengthAdjust="spacingAndGlyphs">SPT</text>
<text transform="matrix(1,0.0005,0,1,0,-0.0174)" x="34.72" y="290.07" font-size="16.0" fill="#000" stroke="#000" stroke-width="0.30" textLength="29.66" lengthAdjust="spacingAndGlyphs">P(k,</text>
<text transform="matrix(1,0.0005,0,1,0,-0.0320)" x="64.01" y="290.07" font-size="16.0" fill="#000" stroke="#000" stroke-width="0.10" textLength="9.83" lengthAdjust="spacingAndGlyphs" font-style="italic">μ</text>
<text transform="matrix(1,0.0005,0,1,0,-0.0370)" x="73.90" y="290.07" font-size="16.0" fill="#000" stroke="#000" stroke-width="0.10" textLength="5.98" lengthAdjust="spacingAndGlyphs">)</text>
<text transform="matrix(1,0.0005,0,1,0,-0.0562)" x="112.46" y="290.07" font-size="16.0" fill="#000" stroke="#000" stroke-width="0.49" textLength="32.94" lengthAdjust="spacingAndGlyphs">None</text>
<text transform="matrix(1,0.0005,0,1,0,-0.0004)" x="0.75" y="313.00" font-size="16.0" fill="#000" stroke="#000" stroke-width="0.47" textLength="27.34" lengthAdjust="spacingAndGlyphs">SPT</text>
<text transform="matrix(1,0.0005,0,1,0,-0.0174)" x="34.72" y="313.00" font-size="16.0" fill="#000" stroke="#000" stroke-width="0.30" textLength="29.66" lengthAdjust="spacingAndGlyphs">P(k,</text>
<text transform="matrix(1,0.0005,0,1,0,-0.0320)" x="64.01" y="313.00" font-size="16.0" fill="#000" stroke="#000" stroke-width="0.10" textLength="9.83" lengthAdjust="spacingAndGlyphs" font-style="italic">μ</text>
<text transform="matrix(1,0.0005,0,1,0,-0.0370)" x="73.90" y="313.00" font-size="16.0" fill="#000" stroke="#000" stroke-width="0.10" textLength="5.98" lengthAdjust="spacingAndGlyphs">)</text>
<text transform="matrix(1,0.0005,0,1,0,-0.0564)" x="112.73" y="313.00" font-size="16.0" fill="#000" stroke="#000" stroke-width="0.51" textLength="18.13" lengthAdjust="spacingAndGlyphs">Lin</text>
<text transform="matrix(1,0.0005,0,1,0,-0.0005)" x="0.94" y="335.93" font-size="16.0" fill="#000" stroke="#000" stroke-width="0.36" textLength="46.14" lengthAdjust="spacingAndGlyphs">Taruya</text>
<text transform="matrix(1,0.0005,0,1,0,-0.0279)" x="55.74" y="335.93" font-size="16.0" fill="#000" stroke="#000" stroke-width="0.30" textLength="13.53" lengthAdjust="spacingAndGlyphs">et</text>
<text transform="matrix(1,0.0005,0,1,0,-0.0385)" x="76.93" y="335.93" font-size="16.0" fill="#000" stroke="#000" stroke-width="0.30" textLength="17.48" lengthAdjust="spacingAndGlyphs">al.</text>
<text transform="matrix(1,0.0005,0,1,0,-0.0562)" x="112.46" y="335.93" font-size="16.0" fill="#000" stroke="#000" stroke-width="0.49" textLength="32.94" lengthAdjust="spacingAndGlyphs">None</text>
<text transform="matrix(1,0.0005,0,1,0,-0.0005)" x="0.94" y="358.87" font-size="16.0" fill="#ff0000" stroke="#ff0000" stroke-width="0.36" textLength="46.14" lengthAdjust="spacingAndGlyphs">Taruya</text>
<text transform="matrix(1,0.0005,0,1,0,-0.0279)" x="55.74" y="358.87" font-size="16.0" fill="#ff0000" stroke="#ff0000" stroke-width="0.30" textLength="13.53" lengthAdjust="spacingAndGlyphs">et</text>
<text transform="matrix(1,0.0005,0,1,0,-0.0385)" x="76.93" y="358.87" font-size="16.0" fill="#ff0000" stroke="#ff0000" stroke-width="0.30" textLength="17.48" lengthAdjust="spacingAndGlyphs">al.</text>
<text transform="matrix(1,0.0005,0,1,0,-0.0562)" x="112.33" y="358.87" font-size="16.0" fill="#ff0000" stroke="#ff0000" stroke-width="0.49" textLength="27.46" lengthAdjust="spacingAndGlyphs">Vary</text>
<text transform="matrix(1,0.0005,0,1,0,-0.0005)" x="0.94" y="381.80" font-size="16.0" fill="#000" stroke="#000" stroke-width="0.36" textLength="46.14" lengthAdjust="spacingAndGlyphs">Taruya</text>
<text transform="matrix(1,0.0005,0,1,0,-0.0279)" x="55.74" y="381.80" font-size="16.0" fill="#000" stroke="#000" stroke-width="0.30" textLength="13.53" lengthAdjust="spacingAndGlyphs">et</text>
<text transform="matrix(1,0.0005,0,1,0,-0.0385)" x="76.93" y="381.80" font-size="16.0" fill="#000" stroke="#000" stroke-width="0.30" textLength="17.48" lengthAdjust="spacingAndGlyphs">al.</text>
<text transform="matrix(1,0.0005,0,1,0,-0.0564)" x="112.73" y="381.80" font-size="16.0" fill="#000" stroke="#000" stroke-width="0.51" textLength="18.13" lengthAdjust="spacingAndGlyphs">Lin</text>
<text transform="matrix(1,0.0005,0,1,0,-0.0005)" x="1.05" y="404.73" font-size="16.0" fill="#000" stroke="#000" stroke-width="0.34" textLength="62.33" lengthAdjust="spacingAndGlyphs">Jennings</text>
<text transform="matrix(1,0.0005,0,1,0,-0.0353)" x="70.62" y="404.73" font-size="16.0" fill="#000" stroke="#000" stroke-width="0.30" textLength="13.75" lengthAdjust="spacingAndGlyphs">et</text>
<text transform="matrix(1,0.0005,0,1,0,-0.0459)" x="91.70" y="404.73" font-size="16.0" fill="#000" stroke="#000" stroke-width="0.30" textLength="18.17" lengthAdjust="spacingAndGlyphs">al.</text>
<text transform="matrix(1,0.0005,0,1,0,-0.0562)" x="112.46" y="404.73" font-size="16.0" fill="#000" stroke="#000" stroke-width="0.49" textLength="32.94" lengthAdjust="spacingAndGlyphs">None</text>
<text transform="matrix(1,0.0005,0,1,0,-0.0005)" x="1.05" y="427.66" font-size="16.0" fill="#ff0000" stroke="#ff0000" stroke-width="0.34" textLength="62.33" lengthAdjust="spacingAndGlyphs">Jennings</text>
<text transform="matrix(1,0.0005,0,1,0,-0.0353)" x="70.62" y="427.66" font-size="16.0" fill="#ff0000" stroke="#ff0000" stroke-width="0.30" textLength="13.75" lengthAdjust="spacingAndGlyphs">et</text>
<text transform="matrix(1,0.0005,0,1,0,-0.0459)" x="91.70" y="427.66" font-size="16.0" fill="#ff0000" stroke="#ff0000" stroke-width="0.30" textLength="18.17" lengthAdjust="spacingAndGlyphs">al.</text>
<text transform="matrix(1,0.0005,0,1,0,-0.0562)" x="112.33" y="427.66" font-size="16.0" fill="#ff0000" stroke="#ff0000" stroke-width="0.49" textLength="27.46" lengthAdjust="spacingAndGlyphs">Vary</text>
<text transform="matrix(1,0.0005,0,1,0,-0.0005)" x="1.05" y="450.59" font-size="16.0" fill="#000" stroke="#000" stroke-width="0.34" textLength="62.33" lengthAdjust="spacingAndGlyphs">Jennings</text>
<text transform="matrix(1,0.0005,0,1,0,-0.0353)" x="70.62" y="450.59" font-size="16.0" fill="#000" stroke="#000" stroke-width="0.30" textLength="13.75" lengthAdjust="spacingAndGlyphs">et</text>
<text transform="matrix(1,0.0005,0,1,0,-0.0459)" x="91.70" y="450.59" font-size="16.0" fill="#000" stroke="#000" stroke-width="0.30" textLength="18.17" lengthAdjust="spacingAndGlyphs">al.</text>
<text transform="matrix(1,0.0005,0,1,0,-0.0564)" x="112.73" y="450.59" font-size="16.0" fill="#000" stroke="#000" stroke-width="0.51" textLength="18.13" lengthAdjust="spacingAndGlyphs">Lin</text>
</svg></body></html>
